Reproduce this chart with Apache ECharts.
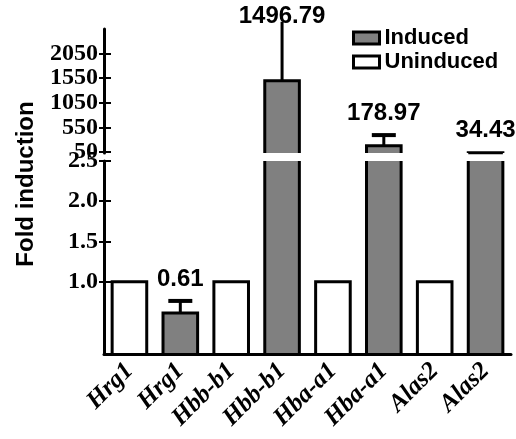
<!DOCTYPE html>
<html>
<head>
<meta charset="utf-8">
<script src="https://cdn.jsdelivr.net/npm/echarts@6/dist/echarts.min.js"></script>
<style>html,body{margin:0;padding:0;background:#fff}#c{width:516px;height:439px}</style>
</head>
<body>
<div id="c"></div>
<script>
// ---- data ----
const categories = ['Hrg1', 'Hrg1', 'Hbb-b1', 'Hbb-b1', 'Hba-a1', 'Hba-a1', 'Alas2', 'Alas2'];
const uninducedIdx = [0, 2, 4, 6];
const uninducedValues = [1.0, 1.0, 1.0, 1.0];
const inducedIdx = [1, 3, 5, 7];
const inducedValues = [0.61, 1496.79, 178.97, 34.43];
const inducedErrors = [0.15, 1200, 215, 0];
const inducedLabels = ['0.61', '1496.79', '178.97', '34.43'];
const upperTicks = [50, 550, 1050, 1550, 2050];
const lowerTicks = [1.0, 1.5, 2.0, 2.5];
const UPPER_MIN = 30, UPPER_MAX = 2550;
const LOWER_MIN = 0.1, LOWER_MAX = 2.5;

const GRAY = '#808080';
const SANS = 'Liberation Sans, Arial, sans-serif';
const SERIF = 'Liberation Serif, Times New Roman, serif';

function barRenderer(fill) {
  return function (params, api) {
    const cs = params.coordSys;
    const idx = api.value(0);
    const cx = api.coord([idx, 0])[0];
    const w = api.size([1, 0])[0] * 0.68;
    const bottom = cs.y + cs.height;
    const yv = api.coord([idx, api.value(1)])[1];
    if (yv >= bottom) return null;
    const clipped = yv < cs.y;
    const top = clipped ? cs.y : yv;
    const l = cx - w / 2, r = cx + w / 2;
    const children = [{ type: 'rect', shape: { x: l, y: top, width: w, height: bottom - top }, style: { fill: fill } }];
    const ls = { stroke: '#000', lineWidth: 3, fill: null, lineJoin: 'miter' };
    if (clipped) {
      children.push({ type: 'line', shape: { x1: l, y1: top, x2: l, y2: bottom }, style: ls });
      children.push({ type: 'line', shape: { x1: r, y1: top, x2: r, y2: bottom }, style: ls });
    } else {
      children.push({ type: 'polyline', shape: { points: [[l, bottom], [l, top], [r, top], [r, bottom]] }, style: ls });
    }
    return { type: 'group', children: children };
  };
}

function errRenderer(params, api) {
  const cs = params.coordSys;
  const idx = api.value(0);
  const v = api.value(1), hi = api.value(2);
  const p0 = api.coord([idx, v]);
  const p1 = api.coord([idx, hi]);
  const children = [];
  const ls = { stroke: '#000', lineWidth: 3 };
  if (hi > v) {
    children.push({ type: 'line', shape: { x1: p0[0], y1: p0[1], x2: p1[0], y2: p1[1] }, style: ls });
    if (p1[1] >= cs.y) {
      children.push({ type: 'line', shape: { x1: p1[0] - 12, y1: p1[1], x2: p1[0] + 12, y2: p1[1] }, style: { stroke: '#000', lineWidth: 4 } });
    }
  }
  const k = params.dataIndex;
  const item = params.seriesName === 'errUpper' ? upperItems[k] : lowerItems[k];
  children.push({
    type: 'text',
    style: {
      text: inducedLabels[item], x: p0[0], y: Math.max(16, Math.min(p0[1], p1[1]) - 22),
      align: 'center', verticalAlign: 'middle',
      font: 'bold 24px ' + SANS, fill: '#000'
    },
    z2: 10
  });
  return { type: 'group', children: children };
}

const upperItems = [], lowerItems = [];
inducedValues.forEach((v, k) => { (v > UPPER_MIN ? upperItems : lowerItems).push(k); });

const inducedData = inducedIdx.map((i, k) => [i, inducedValues[k]]);
const uninducedData = uninducedIdx.map((i, k) => [i, uninducedValues[k]]);
const errUpperData = upperItems.map(k => [inducedIdx[k], inducedValues[k], inducedValues[k] + inducedErrors[k]]);
const errLowerData = lowerItems.map(k => [inducedIdx[k], inducedValues[k], inducedValues[k] + inducedErrors[k]]);

const yLabelStyle = { color: '#000', fontFamily: SERIF, fontWeight: 'bold', fontSize: 24, margin: 6 };

const chart = echarts.init(document.getElementById('c'), null, { renderer: 'canvas' });
chart.setOption({
  animation: false,
  backgroundColor: '#fff',
  grid: [
    { left: 104, right: 5, top: 29, height: 124 },
    { left: 104, right: 5, top: 161, height: 193 }
  ],
  legend: {
    data: ['Induced', 'Uninduced'],
    orient: 'vertical', left: 347, top: 22,
    icon: 'rect', itemWidth: 26, itemHeight: 12, itemGap: 2,
    itemStyle: { borderColor: '#000', borderWidth: 3 },
    textStyle: { fontFamily: SANS, fontWeight: 'bold', fontSize: 22, color: '#000' }
  },
  graphic: [{
    type: 'text', x: 26, y: 184, rotation: Math.PI / 2,
    style: { text: 'Fold induction', font: 'bold 24px ' + SANS, fill: '#000', align: 'center', verticalAlign: 'middle' }
  }],
  xAxis: [
    { type: 'category', gridIndex: 0, data: categories, show: false },
    {
      type: 'category', gridIndex: 1, data: categories, z: 10,
      axisLine: { lineStyle: { color: '#000', width: 3 } },
      axisTick: { inside: true, alignWithLabel: true, length: 7, lineStyle: { color: '#000', width: 2 } },
      axisLabel: { interval: 0, rotate: 45, margin: 13, color: '#000', fontFamily: SERIF, fontWeight: 'bold', fontStyle: 'italic', fontSize: 25 }
    }
  ],
  yAxis: [
    {
      type: 'value', gridIndex: 0, min: UPPER_MIN, max: UPPER_MAX, z: 10,
      axisLine: { show: true, lineStyle: { color: '#000', width: 3 } },
      axisTick: { show: true, length: 5, customValues: upperTicks, lineStyle: { color: '#000', width: 2 } },
      axisLabel: Object.assign({ customValues: upperTicks, formatter: v => String(v) }, yLabelStyle),
      splitLine: { show: false }
    },
    {
      type: 'value', gridIndex: 1, min: LOWER_MIN, max: LOWER_MAX, z: 10,
      axisLine: { show: true, lineStyle: { color: '#000', width: 3 } },
      axisTick: { show: true, length: 5, customValues: lowerTicks, lineStyle: { color: '#000', width: 2 } },
      axisLabel: Object.assign({ customValues: lowerTicks, formatter: v => v.toFixed(1) }, yLabelStyle),
      splitLine: { show: false }
    },
    {
      type: 'value', gridIndex: 0, min: UPPER_MIN, max: UPPER_MAX, position: 'left', z: 10,
      axisLine: { show: false },
      axisTick: { show: true, inside: true, length: 7, customValues: upperTicks, lineStyle: { color: '#000', width: 2 } },
      axisLabel: { show: false }, splitLine: { show: false }
    },
    {
      type: 'value', gridIndex: 1, min: LOWER_MIN, max: LOWER_MAX, position: 'left', z: 10,
      axisLine: { show: false },
      axisTick: { show: true, inside: true, length: 7, customValues: lowerTicks, lineStyle: { color: '#000', width: 2 } },
      axisLabel: { show: false }, splitLine: { show: false }
    }
  ],
  series: [
    { name: 'Induced', type: 'custom', xAxisIndex: 0, yAxisIndex: 0, data: inducedData, renderItem: barRenderer(GRAY), itemStyle: { color: GRAY } },
    { name: 'Induced', type: 'custom', xAxisIndex: 1, yAxisIndex: 1, data: inducedData, renderItem: barRenderer(GRAY), itemStyle: { color: GRAY } },
    { name: 'Uninduced', type: 'custom', xAxisIndex: 1, yAxisIndex: 1, data: uninducedData, renderItem: barRenderer('#fff'), itemStyle: { color: '#fff' } },
    { name: 'errUpper', type: 'custom', xAxisIndex: 0, yAxisIndex: 0, data: errUpperData, renderItem: errRenderer, z: 5 },
    { name: 'errLower', type: 'custom', xAxisIndex: 1, yAxisIndex: 1, data: errLowerData, renderItem: errRenderer, z: 5 }
  ]
});
</script>
</body>
</html>
